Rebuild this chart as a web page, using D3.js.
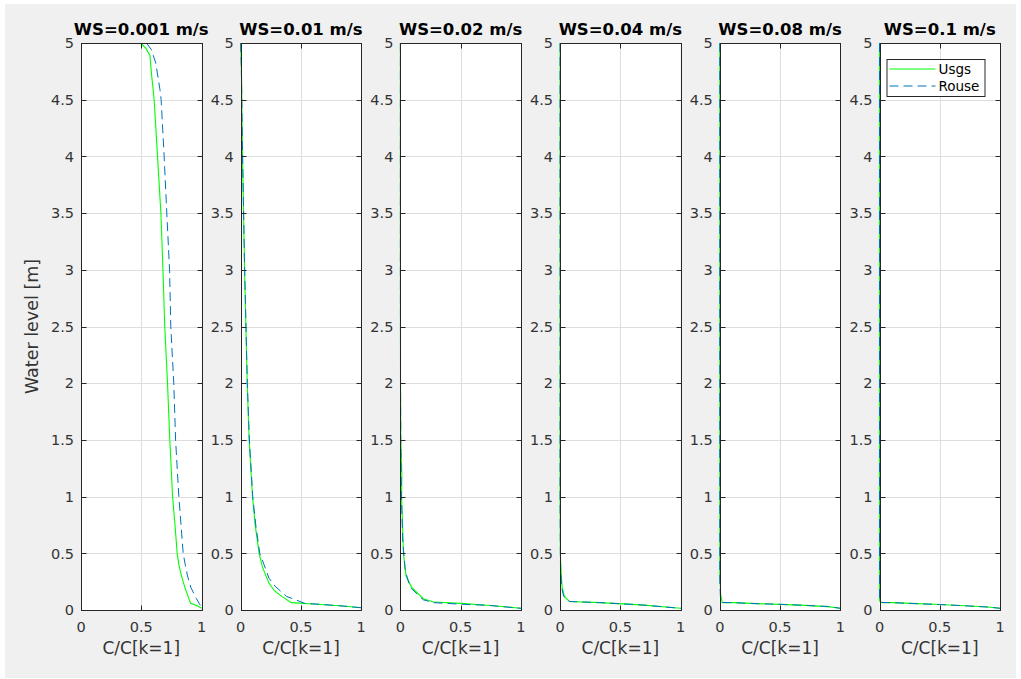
<!DOCTYPE html>
<html>
<head>
<meta charset="utf-8">
<script src="https://cdn.jsdelivr.net/npm/d3@7"></script>
<style>
  body { margin: 0; background: #fff; }
  svg { display: block; font-family: 'DejaVu Sans', sans-serif; }
</style>
</head>
<body>
<script>
// settling velocities, one panel each
let wsLabels = ['0.001', '0.01', '0.02', '0.04', '0.08', '0.1']
let yTicks = [0, 0.5, 1, 1.5, 2, 2.5, 3, 3.5, 4, 4.5, 5]
let xTicks = [0, 0.5, 1]

// [C/C(k=1), water level]
let usgs1 = [[0.495, 5], [0.54, 4.95], [0.572, 4.89], [0.585, 4.73], [0.607, 4.5], [0.635, 4], [0.663, 3.5], [0.68, 3], [0.695, 2.5], [0.718, 2], [0.737, 1.5], [0.76, 1], [0.78, 0.75], [0.798, 0.5], [0.812, 0.4], [0.834, 0.3], [0.862, 0.2], [0.895, 0.1], [0.91, 0.06], [0.96, 0.04], [1, 0.015]]
let rouse1 = [[0.544, 5], [0.585, 4.94], [0.621, 4.82], [0.655, 4.59], [0.665, 4.5], [0.69, 4], [0.712, 3.5], [0.735, 3], [0.745, 2.5], [0.77, 2], [0.785, 1.5], [0.812, 1], [0.83, 0.75], [0.848, 0.5], [0.865, 0.4], [0.884, 0.3], [0.911, 0.2], [0.958, 0.1], [0.985, 0.05], [1, 0.03]]

let usgs2 = [[0, 5], [0.004, 4.85], [0.007, 4.7], [0.01, 4.4], [0.015, 4], [0.024, 3.5], [0.032, 3], [0.043, 2.5], [0.054, 2], [0.07, 1.5], [0.098, 1], [0.12, 0.75], [0.153, 0.5], [0.18, 0.38], [0.235, 0.235], [0.28, 0.17], [0.34, 0.12], [0.42, 0.065], [0.6, 0.053], [0.82, 0.038], [1, 0.02]]
let rouse2 = [[0, 5], [0.005, 4.8], [0.008, 4.6], [0.011, 4.3], [0.016, 4], [0.024, 3.5], [0.033, 3], [0.044, 2.5], [0.055, 2], [0.072, 1.5], [0.1, 1], [0.125, 0.75], [0.158, 0.5], [0.18, 0.44], [0.235, 0.28], [0.285, 0.21], [0.38, 0.12], [0.445, 0.094], [0.53, 0.059], [0.66, 0.05], [0.85, 0.035], [1, 0.02]]

let usgs3 = [[0, 5], [0, 3], [0.001, 2], [0.003, 1.5], [0.012, 1.2], [0.01, 1], [0.018, 0.75], [0.025, 0.5], [0.047, 0.3], [0.094, 0.2], [0.19, 0.1], [0.275, 0.07], [0.5, 0.058], [0.75, 0.04], [1, 0.015]]
let rouse3 = [[0, 5], [0, 3], [0.001, 2], [0.003, 1.5], [0.008, 1], [0.02, 0.6], [0.04, 0.35], [0.08, 0.2], [0.19, 0.09], [0.275, 0.065], [0.47, 0.053], [0.74, 0.04], [1, 0.015]]

let usgs4 = [[0, 5], [0, 1], [0.002, 0.5], [0.005, 0.42], [0.01, 0.3], [0.017, 0.2], [0.036, 0.12], [0.077, 0.075], [0.33, 0.065], [0.67, 0.045], [1, 0.015]]
let rouse4 = [[0, 5], [0, 1], [0.003, 0.4], [0.012, 0.2], [0.03, 0.12], [0.08, 0.075], [0.33, 0.065], [0.67, 0.045], [1, 0.015]]

let usgs5 = [[0, 5], [0, 0.3], [0.008, 0.13], [0.02, 0.065], [0.105, 0.065], [0.31, 0.056], [0.5, 0.05], [0.71, 0.041], [0.9, 0.03], [1, 0.015]]
let rouse5 = [[0, 5], [0, 0.25], [0.005, 0.12], [0.02, 0.066], [0.105, 0.065], [0.31, 0.056], [0.5, 0.05], [0.71, 0.041], [0.9, 0.03], [1, 0.015]]

let usgs6 = [[0, 5], [0, 0.09], [0.003, 0.075], [0.02, 0.065], [0.105, 0.065], [0.31, 0.056], [0.5, 0.048], [0.71, 0.037], [0.9, 0.026], [1, 0.015]]
let rouse6 = [[0, 5], [0, 0.09], [0.003, 0.075], [0.02, 0.066], [0.105, 0.065], [0.31, 0.056], [0.5, 0.048], [0.71, 0.037], [0.9, 0.026], [1, 0.015]]

let usgs = [usgs1, usgs2, usgs3, usgs4, usgs5, usgs6]
let rouse = [rouse1, rouse2, rouse3, rouse4, rouse5, rouse6]

let width = 1021,
  height = 679,
  plotLeft = 81,
  plotStep = 159.7,
  plotWidth = 120.5,
  plotTop = 43,
  plotBottom = 610,
  tickLen = 5

let svg = d3.select('body').append('svg')
  .attr('width', width)
  .attr('height', height)

svg.append('rect')
  .attr('x', 5).attr('y', 4)
  .attr('width', 1011).attr('height', 674)
  .attr('fill', '#f0f0f0')

let scaleY = d3.scaleLinear().domain([0, 5]).range([plotBottom, plotTop])

let greenColor = '#00ff00',
  blueColor = '#0072bd',
  axisColor = '#262626'

wsLabels.forEach((ws, i) => {
  let x0 = plotLeft + plotStep * i
  let scaleX = d3.scaleLinear().domain([0, 1]).range([x0, x0 + plotWidth])
  let g = svg.append('g')

  g.append('rect')
    .attr('x', x0).attr('y', plotTop)
    .attr('width', plotWidth).attr('height', plotBottom - plotTop)
    .attr('fill', '#fff')

  // grid
  g.selectAll('.gy').data(yTicks).enter().append('line')
    .attr('x1', x0).attr('x2', x0 + plotWidth)
    .attr('y1', d => Math.round(scaleY(d)) + 0.5).attr('y2', d => Math.round(scaleY(d)) + 0.5)
    .attr('stroke', '#dedede')
  g.selectAll('.gx').data(xTicks).enter().append('line')
    .attr('x1', d => Math.round(scaleX(d)) + 0.5).attr('x2', d => Math.round(scaleX(d)) + 0.5)
    .attr('y1', plotTop).attr('y2', plotBottom)
    .attr('stroke', '#dedede')

  let line = d3.line()
    .x(d => scaleX(d[0]))
    .y(d => scaleY(d[1]))

  g.append('path')
    .datum(usgs[i])
    .attr('d', line)
    .attr('fill', 'none')
    .attr('stroke', greenColor)
    .attr('stroke-width', 1.1)

  g.append('path')
    .datum(rouse[i])
    .attr('d', line)
    .attr('fill', 'none')
    .attr('stroke', blueColor)
    .attr('stroke-width', 1)
    .attr('stroke-dasharray', '9,5')

  // box and inner ticks
  let bx0 = Math.round(x0) + 0.5,
    bx1 = Math.round(x0 + plotWidth) + 0.5
  g.append('rect')
    .attr('x', bx0).attr('y', plotTop + 0.5)
    .attr('width', bx1 - bx0).attr('height', plotBottom - plotTop)
    .attr('fill', 'none')
    .attr('stroke', axisColor)

  g.selectAll('.ty').data(yTicks).enter().append('path')
    .attr('d', d => {
      let y = Math.round(scaleY(d)) + 0.5
      return 'M' + bx0 + ',' + y + 'h' + tickLen + 'M' + bx1 + ',' + y + 'h' + (-tickLen)
    })
    .attr('stroke', axisColor)
  g.selectAll('.tx').data(xTicks).enter().append('path')
    .attr('d', d => {
      let x = Math.round(scaleX(d)) + 0.5
      return 'M' + x + ',' + (plotBottom + 0.5) + 'v' + (-tickLen) + 'M' + x + ',' + (plotTop + 0.5) + 'v' + tickLen
    })
    .attr('stroke', axisColor)

  // tick labels
  g.selectAll('.ly').data(yTicks).enter().append('text')
    .attr('x', x0 - 7)
    .attr('y', d => scaleY(d))
    .attr('dy', '0.36em')
    .attr('text-anchor', 'end')
    .attr('font-size', 14.5)
    .attr('fill', '#333')
    .text(d3.format('~g'))
  g.selectAll('.lx').data(xTicks).enter().append('text')
    .attr('x', d => scaleX(d))
    .attr('y', plotBottom + 22)
    .attr('text-anchor', 'middle')
    .attr('font-size', 14.5)
    .attr('fill', '#333')
    .text(d3.format('~g'))

  g.append('text')
    .attr('x', x0 + plotWidth / 2)
    .attr('y', plotBottom + 44)
    .attr('text-anchor', 'middle')
    .attr('font-size', 17)
    .attr('fill', '#333')
    .text('C/C[k=1]')

  g.append('text')
    .attr('x', x0 + plotWidth / 2)
    .attr('y', 35)
    .attr('text-anchor', 'middle')
    .attr('font-size', 16.5)
    .attr('font-weight', 'bold')
    .attr('fill', '#000')
    .text('WS=' + ws + ' m/s')

  if (i === wsLabels.length - 1) {
    let lg = g.append('g').attr('transform', 'translate(' + (bx0 + 6) + ', ' + (plotTop + 16) + ')')
    lg.append('rect')
      .attr('x', 0.5).attr('y', 0.5)
      .attr('width', 98).attr('height', 37)
      .attr('fill', '#fff')
      .attr('stroke', axisColor)
    lg.append('line')
      .attr('x1', 3).attr('x2', 49).attr('y1', 10).attr('y2', 10)
      .attr('stroke', greenColor).attr('stroke-width', 1.1)
    lg.append('line')
      .attr('x1', 3).attr('x2', 49).attr('y1', 27).attr('y2', 27)
      .attr('stroke', blueColor).attr('stroke-dasharray', '9,5')
    lg.append('text').attr('x', 52).attr('y', 10).attr('dy', '0.36em')
      .attr('font-size', 13.5).attr('fill', '#000').text('Usgs')
    lg.append('text').attr('x', 52).attr('y', 27).attr('dy', '0.36em')
      .attr('font-size', 13.5).attr('fill', '#000').text('Rouse')
  }
})

svg.append('text')
  .attr('transform', 'translate(38, ' + ((plotTop + plotBottom) / 2) + ') rotate(-90)')
  .attr('text-anchor', 'middle')
  .attr('font-size', 17.5)
  .attr('fill', '#333')
  .text('Water level [m]')
</script>
</body>
</html>
